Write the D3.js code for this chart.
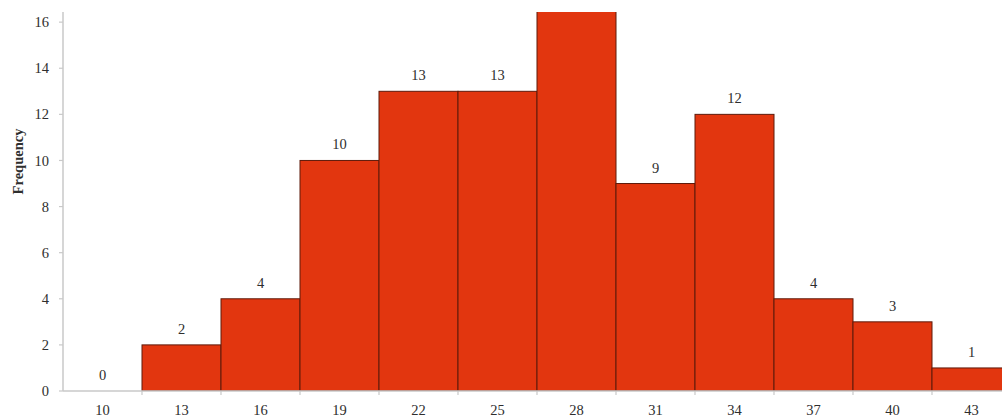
<!DOCTYPE html>
<html>
<head>
<meta charset="utf-8">
<script src="https://cdn.jsdelivr.net/npm/d3@7/dist/d3.min.js"></script>
<style>
  html, body { margin: 0; padding: 0; background: #fff; }
  svg { display: block; }
  text { font-family: "Liberation Serif", "DejaVu Serif", serif; fill: #2e2e2e; }
</style>
</head>
<body>
<svg id="chart" width="1002" height="419"></svg>
<script>
// Histogram bins (bin centre labels) and counts
const bins = ["10", "13", "16", "19", "22", "25", "28", "31", "34", "37", "40", "43"];
const counts = [0, 2, 4, 10, 13, 13, 17, 9, 12, 4, 3, 1];
const yTicks = [0, 2, 4, 6, 8, 10, 12, 14, 16];

(function () {
  const svg = d3.select("#chart");
  const mLeft = 63, mRight = 1011, mTop = 12, mBottom = 391;
  const fontSize = 14.5;

  const x = d3.scaleBand().domain(bins).range([mLeft, mRight]).padding(0);
  const y = d3.scaleLinear().domain([0, 16.44]).range([mBottom, mTop]);

  svg.append("defs").append("clipPath").attr("id", "plot")
    .append("rect").attr("x", mLeft).attr("y", mTop)
    .attr("width", mRight - mLeft).attr("height", mBottom - mTop);

  const axisColor = "#c9c9c9";

  // Y axis
  svg.append("line").attr("x1", mLeft).attr("x2", mLeft).attr("y1", mTop).attr("y2", mBottom)
    .attr("stroke", axisColor).attr("stroke-width", 1.5);
  svg.selectAll(".ytick").data(yTicks).enter().append("line")
    .attr("x1", mLeft - 4).attr("x2", mLeft).attr("y1", d => y(d)).attr("y2", d => y(d))
    .attr("stroke", axisColor).attr("stroke-width", 1.2);
  svg.selectAll(".ylab").data(yTicks).enter().append("text")
    .attr("x", 49).attr("y", d => y(d)).attr("dy", "0.35em")
    .attr("text-anchor", "end").attr("font-size", fontSize).text(d => d);

  // Y axis title
  svg.append("text").attr("transform", `translate(22.5,161.5) rotate(-90)`)
    .attr("text-anchor", "middle").attr("font-size", 14.5).attr("font-weight", "bold")
    .attr("fill", "#222").text("Frequency");

  // Bars
  const data = bins.map((b, i) => ({ bin: b, count: counts[i] }));
  const g = svg.append("g").attr("clip-path", "url(#plot)");
  g.selectAll("rect").data(data.filter(d => d.count > 0)).enter().append("rect")
    .attr("x", d => x(d.bin)).attr("width", x.bandwidth())
    .attr("y", d => y(d.count))
    .attr("height", d => mBottom - y(d.count))
    .attr("fill", "#e2360f").attr("stroke", "#5e1a0b").attr("stroke-width", 1);

  // Value labels (only those that fit inside the plot area)
  svg.selectAll(".val").data(data.filter(d => y(d.count) - 11 - fontSize >= 0)).enter().append("text")
    .attr("x", d => x(d.bin) + x.bandwidth() / 2)
    .attr("y", d => y(d.count) - 11)
    .attr("text-anchor", "middle").attr("font-size", fontSize)
    .text(d => d.count);

  // X axis
  svg.append("line").attr("x1", mLeft).attr("x2", mRight).attr("y1", mBottom).attr("y2", mBottom)
    .attr("stroke", axisColor).attr("stroke-width", 1.5);
  svg.selectAll(".xtick").data(bins.slice(1)).enter().append("line")
    .attr("x1", d => x(d)).attr("x2", d => x(d)).attr("y1", mBottom).attr("y2", mBottom + 4)
    .attr("stroke", axisColor).attr("stroke-width", 1.2);
  svg.selectAll(".xlab").data(bins).enter().append("text")
    .attr("x", d => x(d) + x.bandwidth() / 2).attr("y", mBottom + 19)
    .attr("dy", "0.35em").attr("text-anchor", "middle").attr("font-size", fontSize).text(d => d);
})();
</script>
</body>
</html>
